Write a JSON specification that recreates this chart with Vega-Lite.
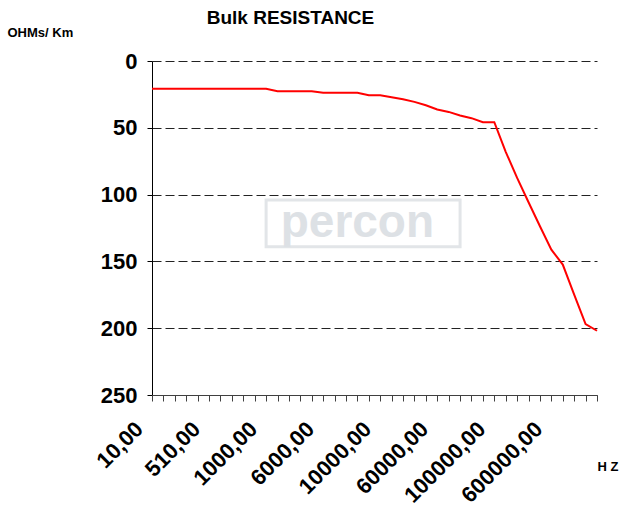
{
  "$schema": "https://vega.github.io/schema/vega-lite/v6.json",
  "width": 445,
  "height": 334,
  "autosize": "none",
  "padding": {"left": 152, "top": 61, "right": 23, "bottom": 113},
  "background": "white",
  "config": {
    "view": {"stroke": null},
    "font": "Liberation Sans"
  },
  "title": {
    "text": "Bulk RESISTANCE",
    "font": "Liberation Sans",
    "fontSize": 19,
    "fontWeight": "bold",
    "color": "black",
    "anchor": "middle",
    "frame": "group",
    "dx": -84,
    "offset": 0,
    "dy": 2
  },
  "datasets": {
    "curve": [
      {"i": 0, "f": "10,00", "r": 20.8},
      {"i": 1, "f": "110,00", "r": 20.8},
      {"i": 2, "f": "210,00", "r": 20.8},
      {"i": 3, "f": "310,00", "r": 20.8},
      {"i": 4, "f": "410,00", "r": 20.8},
      {"i": 5, "f": "510,00", "r": 20.8},
      {"i": 6, "f": "600,00", "r": 20.8},
      {"i": 7, "f": "700,00", "r": 20.8},
      {"i": 8, "f": "800,00", "r": 20.8},
      {"i": 9, "f": "900,00", "r": 20.8},
      {"i": 10, "f": "1000,00", "r": 20.8},
      {"i": 11, "f": "2000,00", "r": 22.6},
      {"i": 12, "f": "3000,00", "r": 22.6},
      {"i": 13, "f": "4000,00", "r": 22.6},
      {"i": 14, "f": "5000,00", "r": 22.6},
      {"i": 15, "f": "6000,00", "r": 23.8},
      {"i": 16, "f": "7000,00", "r": 23.8},
      {"i": 17, "f": "8000,00", "r": 23.8},
      {"i": 18, "f": "9000,00", "r": 23.8},
      {"i": 19, "f": "9500,00", "r": 25.7},
      {"i": 20, "f": "10000,00", "r": 25.7},
      {"i": 21, "f": "20000,00", "r": 27.1},
      {"i": 22, "f": "30000,00", "r": 28.6},
      {"i": 23, "f": "40000,00", "r": 30.6},
      {"i": 24, "f": "50000,00", "r": 33.1},
      {"i": 25, "f": "60000,00", "r": 36.3},
      {"i": 26, "f": "70000,00", "r": 38.1},
      {"i": 27, "f": "80000,00", "r": 40.8},
      {"i": 28, "f": "90000,00", "r": 42.8},
      {"i": 29, "f": "95000,00", "r": 45.8},
      {"i": 30, "f": "100000,00", "r": 45.8},
      {"i": 31, "f": "200000,00", "r": 68},
      {"i": 32, "f": "300000,00", "r": 87.5},
      {"i": 33, "f": "400000,00", "r": 105.7},
      {"i": 34, "f": "500000,00", "r": 123.7},
      {"i": 35, "f": "600000,00", "r": 141.2},
      {"i": 36, "f": "700000,00", "r": 152.4},
      {"i": 37, "f": "800000,00", "r": 174.9},
      {"i": 38, "f": "900000,00", "r": 196.9},
      {"i": 39, "f": "1000000,00", "r": 201.9}
    ],
    "mark": [
      {"f": "9000,00", "r": 121, "label": "percon", "f1": "1000,00", "f2": "80000,00", "r1": 104, "r2": 139}
    ]
  },
  "layer": [
    {
      "data": {"name": "mark"},
      "mark": {"type": "rect", "fill": null, "stroke": "#e2e5e8", "strokeWidth": 3},
      "encoding": {
        "x": {"field": "f1", "type": "ordinal", "sort": null},
        "x2": {"field": "f2"},
        "y": {"field": "r1", "type": "quantitative"},
        "y2": {"field": "r2"}
      }
    },
    {
      "data": {"name": "mark"},
      "mark": {"type": "text", "font": "Liberation Sans", "fontWeight": "bold", "fontSize": 46, "color": "#dde1e5", "align": "center", "baseline": "middle"},
      "encoding": {
        "x": {"field": "f", "type": "ordinal", "sort": null},
        "y": {"field": "r", "type": "quantitative"},
        "text": {"field": "label"}
      }
    },
    {
      "data": {"name": "curve"},
      "mark": {"type": "line", "color": "#ff0000", "strokeWidth": 2},
      "encoding": {
        "x": {
          "field": "f",
          "type": "ordinal",
          "sort": null,
          "scale": {
            "type": "point",
            "padding": 0,
            "domain": ["10,00","110,00","210,00","310,00","410,00","510,00","600,00","700,00","800,00","900,00","1000,00","2000,00","3000,00","4000,00","5000,00","6000,00","7000,00","8000,00","9000,00","9500,00","10000,00","20000,00","30000,00","40000,00","50000,00","60000,00","70000,00","80000,00","90000,00","95000,00","100000,00","200000,00","300000,00","400000,00","500000,00","600000,00","700000,00","800000,00","900000,00","1000000,00"]
          },
          "axis": {
            "title": "H Z",
            "titleFont": "Liberation Sans",
            "titleFontSize": 13,
            "titleFontWeight": "bold",
            "titleColor": "black",
            "titleAngle": 0,
            "titleAlign": "left",
            "titleBaseline": "alphabetic",
            "titleX": 445,
            "titleY": 75,
            "domainColor": "#404040",
            "domainWidth": 1,
            "tickColor": "#404040",
            "tickSize": 6,
            "grid": false,
            "labelAngle": -45,
            "labelAlign": "right",
            "labelBaseline": "top",
            "labelFont": "Liberation Sans",
            "labelFontSize": 22,
            "labelFontWeight": "bold",
            "labelColor": "black",
            "labelPadding": 17,
            "labelOffset": -20,
            "labelOverlap": false,
            "labelExpr": "indexof(['10,00','510,00','1000,00','6000,00','10000,00','60000,00','100000,00','600000,00'], datum.value) >= 0 ? datum.value : ''"
          }
        },
        "y": {
          "field": "r",
          "type": "quantitative",
          "scale": {"domain": [0, 250], "reverse": true, "nice": false, "zero": false},
          "axis": {
            "values": [0, 50, 100, 150, 200, 250],
            "title": "OHMs/ Km",
            "titleFont": "Liberation Sans",
            "titleFontSize": 13,
            "titleFontWeight": "bold",
            "titleColor": "black",
            "titleAngle": 0,
            "titleAlign": "left",
            "titleBaseline": "alphabetic",
            "titleX": -145,
            "titleY": -25,
            "domainColor": "black",
            "tickColor": "black",
            "tickSize": 5,
            "labelFont": "Liberation Sans",
            "labelFontSize": 22,
            "labelFontWeight": "bold",
            "labelColor": "black",
            "labelPadding": 10,
            "grid": true,
            "gridColor": "#222222",
            "gridDash": [9, 4],
            "gridWidth": 1
          }
        }
      }
    }
  ]
}
